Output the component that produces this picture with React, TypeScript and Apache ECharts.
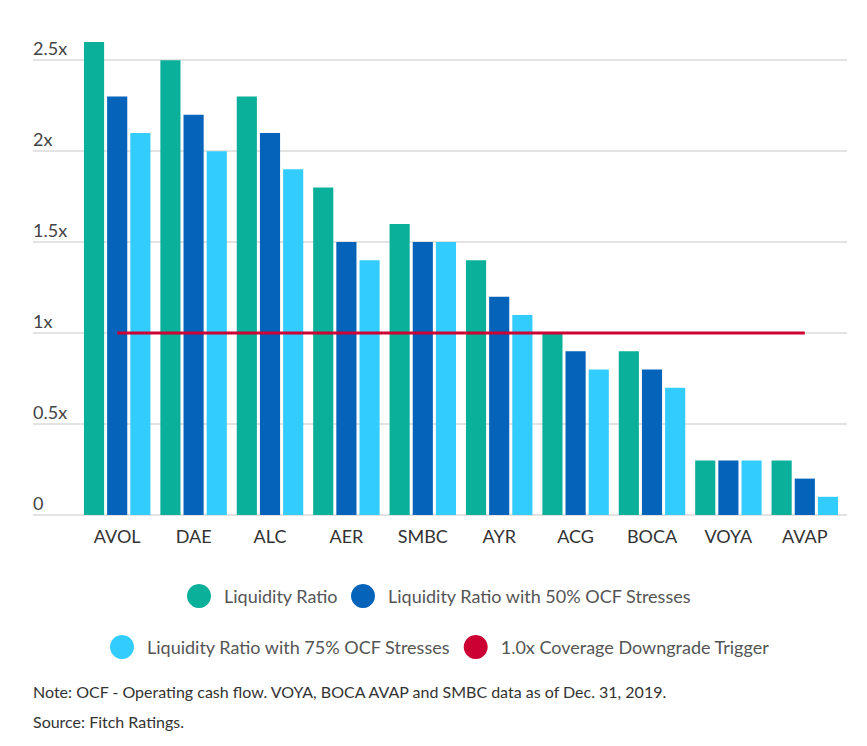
import React, { useEffect, useRef } from "react";
import * as echarts from "echarts";

const categories = ["AVOL", "DAE", "ALC", "AER", "SMBC", "AYR", "ACG", "BOCA", "VOYA", "AVAP"];
const liquidityRatio = [2.6, 2.5, 2.3, 1.8, 1.6, 1.4, 1.0, 0.9, 0.3, 0.3];
const stress50 = [2.3, 2.2, 2.1, 1.5, 1.5, 1.2, 0.9, 0.8, 0.3, 0.2];
const stress75 = [2.1, 2.0, 1.9, 1.4, 1.5, 1.1, 0.8, 0.7, 0.3, 0.1];
const trigger = [1, 1, 1, 1, 1, 1, 1, 1, 1, 1];
const seriesNames = [
  "Liquidity Ratio",
  "Liquidity Ratio with 50% OCF Stresses",
  "Liquidity Ratio with 75% OCF Stresses",
  "1.0x Coverage Downgrade Trigger",
];
const noteLines = [
  "Note: OCF - Operating cash flow. VOYA, BOCA AVAP and SMBC data as of Dec. 31, 2019.",
  "Source: Fitch Ratings.",
];

const FONT = "Lato, 'Open Sans', sans-serif";

export default function App() {
  const ref = useRef<HTMLDivElement>(null);
  useEffect(() => {
    if (!ref.current) return;
    const chart = echarts.init(ref.current, undefined, { renderer: "svg" });
    const legendText = { fontFamily: FONT, fontSize: 18, color: "#555", padding: [0, 0, 0, 8] };
    chart.setOption({
      animation: false,
      textStyle: { fontFamily: FONT },
      color: ["#0BB09A", "#0563BA", "#33CCFF", "#CC0033"],
      grid: [
        { left: 25, right: 12, top: 52, bottom: 223 },
        { left: 71, right: 16, top: 34, bottom: 223 },
      ],
      xAxis: [
        { type: "value", gridIndex: 0, show: false },
        {
          type: "category",
          gridIndex: 1,
          data: categories,
          axisLine: { show: false },
          axisTick: { show: false },
          axisLabel: { margin: 12, fontSize: 18, color: "#333", fontFamily: FONT },
        },
      ],
      yAxis: [
        {
          type: "value",
          gridIndex: 0,
          min: 0,
          max: 2.5,
          interval: 0.5,
          axisLine: { show: false },
          axisTick: { show: false },
          splitLine: { lineStyle: { color: "#dadada", width: 1.5 } },
          axisLabel: {
            inside: true,
            margin: 0,
            verticalAlign: "bottom",
            padding: [0, 0, 3, 0],
            fontSize: 18,
            color: "#444",
            fontFamily: FONT,
            formatter: (v: number) => (v === 0 ? "0" : `${v}x`),
          },
        },
        { type: "value", gridIndex: 1, min: 0, max: 2.6, show: false },
      ],
      legend: [
        {
          data: [seriesNames[0], seriesNames[1]],
          top: 571,
          left: 174,
          icon: "circle",
          itemWidth: 24,
          itemHeight: 24,
          itemGap: 13,
          textStyle: legendText,
        },
        {
          data: [seriesNames[2], seriesNames[3]],
          top: 622,
          left: 97,
          icon: "circle",
          itemWidth: 24,
          itemHeight: 24,
          itemGap: 13,
          textStyle: legendText,
        },
      ],
      series: [
        {
          name: seriesNames[0],
          type: "bar",
          xAxisIndex: 1,
          yAxisIndex: 1,
          data: liquidityRatio,
          barGap: "15%",
          barCategoryGap: "13%",
        },
        { name: seriesNames[1], type: "bar", xAxisIndex: 1, yAxisIndex: 1, data: stress50 },
        { name: seriesNames[2], type: "bar", xAxisIndex: 1, yAxisIndex: 1, data: stress75 },
        {
          name: seriesNames[3],
          type: "line",
          xAxisIndex: 1,
          yAxisIndex: 1,
          data: trigger,
          symbol: "none",
          lineStyle: { width: 3, color: "#CC0033" },
          itemStyle: { color: "#CC0033" },
          z: 5,
        },
      ],
      graphic: noteLines.map((t, i) => ({
        type: "text",
        left: 25,
        top: 675 + i * 30,
        style: { text: t, fontFamily: FONT, fontSize: 16, fill: "#333" },
      })),
    });
    return () => chart.dispose();
  }, []);
  return <div ref={ref} style={{ width: 851, height: 730 }} />;
}
